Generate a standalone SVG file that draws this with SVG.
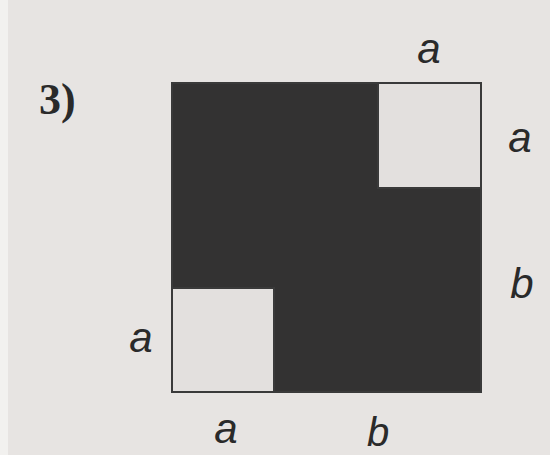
<svg xmlns="http://www.w3.org/2000/svg" width="550" height="455" viewBox="0 0 550 455">
<style>
.lbl{font-family:"Liberation Sans",Arial,sans-serif;font-style:italic;font-size:42px;fill:#2a2a2a;text-anchor:middle}
.num{font-family:"Liberation Serif","Times New Roman",serif;font-weight:bold;font-size:44px;fill:#2a2a2a}
.light{fill:#e3e0de;stroke:#3a3a3a;stroke-width:2}
</style>
<rect x="0" y="0" width="550" height="455" fill="#e7e4e2"/>
<rect x="0" y="0" width="8" height="455" fill="#f2f1ef"/>
<g id="figure">
<rect x="172" y="83" width="309" height="309" fill="#333232" stroke="#3a3a3a" stroke-width="2"/>
<rect class="light" x="378" y="83" width="103" height="105"/>
<rect class="light" x="172" y="288" width="102" height="104"/>
</g>
<g id="labels">
<text class="num" x="39" y="114">3)</text>
<text class="lbl" x="429" y="63">a</text>
<text class="lbl" x="520" y="152">a</text>
<text class="lbl" x="522" y="298">b</text>
<text class="lbl" x="141" y="352">a</text>
<text class="lbl" x="226" y="443">a</text>
<text class="lbl" x="378" y="446" style="font-size:40px">b</text>
</g>
</svg>
